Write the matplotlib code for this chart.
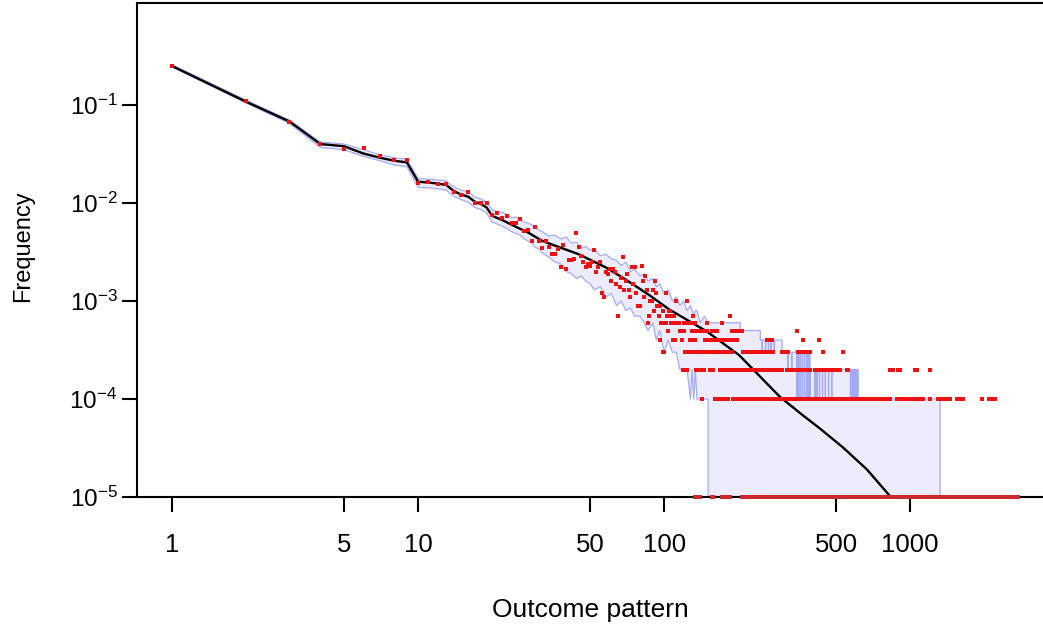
import numpy as np
import matplotlib
matplotlib.use("Agg")
import matplotlib.pyplot as plt

plt.rcParams['font.family'] = ['Liberation Sans', 'DejaVu Sans']
plt.rcParams['mathtext.fontset'] = 'custom'
plt.rcParams['mathtext.rm'] = 'Liberation Sans'
plt.rcParams['mathtext.it'] = 'Liberation Sans'

N_SAMPLES = 10000

# observed counts (out of N_SAMPLES) for ranks 1..95
head_counts = [
    2520, 1090, 675, 400, 358, 367, 304, 275, 275, 161,
    165, 155, 155, 130, 121, 129, 99, 99, 99, 76,
    80, 70, 73, 62, 62, 69, 52, 53, 41, 57,
    41, 35, 41, 36, 30, 30, 34, 22, 37, 21,
    26, 26, 27, 50, 36, 29, 25, 22, 24, 23,
    25, 33, 20, 22, 25, 12, 11, 20, 19, 21,
    16, 21, 20, 15, 7, 14, 17, 28, 13, 16,
    19, 13, 11, 22, 15, 22, 12, 9, 9, 9,
    23, 16, 11, 18, 13, 6, 7, 10, 10, 13,
    8, 16, 12, 9, 7,
]

# tail: runs of ranks (first, last) sharing the same observed count
tail_12 = [(102, 102)]
tail_10 = [(112, 112), (124, 124)]
tail_9 = [(96, 96)]
tail_8 = [(99, 99), (105, 106)]
tail_7 = [(103, 104), (108, 110), (131, 131), (186, 186)]
tail_6 = [(97, 98), (101, 102), (107, 109), (113, 115), (120, 122), (125, 126),
          (131, 133), (150, 150), (172, 172)]
tail_5 = [(104, 104), (116, 117), (120, 121), (130, 133), (138, 140), (145, 149),
          (156, 158), (162, 164), (189, 192), (200, 208), (346, 346)]
tail_4 = [(96, 96), (109, 111), (118, 118), (128, 129), (132, 133), (146, 150),
          (154, 162), (166, 176), (180, 197), (261, 268), (272, 275), (366, 366),
          (426, 426)]
tail_3 = [(99, 100), (122, 124), (128, 130), (134, 137), (143, 146), (150, 158),
          (161, 170), (174, 189), (209, 225), (229, 250), (254, 277), (302, 318),
          (350, 362), (372, 392), (444, 444), (534, 534)]
tail_2 = [(119, 120), (123, 124), (135, 137), (140, 145), (154, 158), (168, 200),
          (204, 240), (246, 302), (316, 392), (409, 517), (553, 561), (829, 852),
          (893, 906), (1049, 1066), (1206, 1206)]
tail_1 = [(143, 143), (161, 166), (170, 182), (191, 230), (239, 721), (740, 829),
          (885, 1066), (1098, 1124), (1206, 1206), (1304, 1455), (1546, 1642),
          (1966, 1966), (2084, 2217)]
tail_0 = [(133, 140), (157, 158), (172, 185), (207, 2755)]

# expected frequency (black line)
expected_rank = [1, 2, 3, 4, 5, 6, 7, 8, 9, 10, 11, 12, 13, 14, 15, 16, 17, 18, 19, 20,
                 22, 24, 28, 32, 38, 45, 58, 70, 87, 105, 149, 202, 296, 367, 430,
                 534, 669, 829, 900]
expected_freq = [0.25, 0.108, 0.068, 0.040, 0.038, 0.032, 0.029, 0.027, 0.026, 0.0165,
                 0.0162, 0.0158, 0.0153, 0.0132, 0.0122, 0.0116, 0.0103, 0.0098, 0.0090,
                 0.0074, 0.0067, 0.0060, 0.0050, 0.0041, 0.0035, 0.0030, 0.0022,
                 0.00165, 0.00115, 0.00082, 0.00049, 0.00028, 0.000105, 6.8e-5, 5.0e-5,
                 3.2e-5, 1.9e-5, 1.02e-5, 8e-6]

# confidence band, ranks 1..151
band_rank = [1, 2, 3, 4, 5, 6, 7, 8, 9, 10, 11, 12, 13, 14, 15, 16, 17, 18, 19, 20,
             21, 22, 23, 24, 25, 26, 27, 28, 29, 30, 31, 32, 34, 36, 38, 40, 42, 44,
             46, 48, 50, 52, 55, 58, 61, 64, 67, 70, 73, 76, 80, 83, 86, 90, 93, 96,
             100, 104, 108, 112, 116, 120, 124, 128, 130, 132, 134, 136, 140, 146, 151]
band_lo = [0.245, 0.105, 0.065, 0.037, 0.035, 0.030, 0.027, 0.0245, 0.0235, 0.0145,
           0.0143, 0.0140, 0.0136, 0.0117, 0.0108, 0.0102, 0.0090, 0.0086, 0.0079, 0.0064,
           0.0061, 0.0058, 0.0055, 0.0051, 0.0049, 0.0047, 0.0043, 0.0041, 0.0039, 0.0035,
           0.0034, 0.0031, 0.0028, 0.0025, 0.0024, 0.0020, 0.0019, 0.0017, 0.0018, 0.0016,
           0.0015, 0.0013, 0.0014, 0.0011, 0.0012, 0.0009, 0.0010, 0.0008, 0.00085, 0.0007,
           0.0007, 0.0006, 0.0005, 0.0006, 0.0004, 0.0005, 0.0003, 0.0004, 0.0003, 0.0003,
           0.0002, 0.0002, 0.0002, 0.0001, 0.0002, 0.0001, 0.0002, 0.0001, 0.0001, 0.0001,
           0.0001]
band_hi = [0.258, 0.112, 0.070, 0.042, 0.040, 0.035, 0.031, 0.029, 0.028, 0.0178,
           0.0175, 0.0172, 0.0168, 0.0145, 0.0135, 0.0130, 0.0115, 0.0110, 0.0102, 0.0085,
           0.0082, 0.0080, 0.0076, 0.0071, 0.0072, 0.0068, 0.0064, 0.0062, 0.0060, 0.0056,
           0.0053, 0.0051, 0.0046, 0.0047, 0.0043, 0.0045, 0.0039, 0.0040, 0.0035, 0.0036,
           0.0033, 0.0034, 0.0029, 0.0030, 0.0027, 0.0026, 0.0023, 0.0025, 0.0020, 0.0021,
           0.0018, 0.0019, 0.0016, 0.0017, 0.0014, 0.0015, 0.0012, 0.0013, 0.0010, 0.0011,
           0.0009, 0.0010, 0.0008, 0.0009, 0.0008, 0.0007, 0.0008, 0.0008, 0.0006, 0.0007,
           0.0006]

# band upper bound in the tail: stepwise in counts, lower bound is zero
tail_hi_start = [151, 204, 246, 302, 392, 615]
tail_hi_count = [6, 5, 4, 3, 2, 1]
tail_band_end = 1324
hi_dip_rank = [250, 258, 265, 272, 280, 318, 330, 346, 352, 358, 365, 372, 380, 386,
               392, 410, 418, 428, 440, 452, 466, 480, 572, 580, 588, 596, 604, 610]
hi_dip_count = [3, 3, 3, 3, 3, 2, 2, 1, 1, 1, 1, 1, 1, 1,
                1, 1, 1, 1, 1, 1, 1, 1, 1, 1, 1, 1, 1, 1]

x_ticks = [1, 5, 10, 50, 100, 500, 1000]
y_ticks = [1e-1, 1e-2, 1e-3, 1e-4, 1e-5]
y_ticklabels = [r'$\mathregular{10^{-1}}$', r'$\mathregular{10^{-2}}$',
                r'$\mathregular{10^{-3}}$', r'$\mathregular{10^{-4}}$',
                r'$\mathregular{10^{-5}}$']

FLOOR = 1e-5      # zero counts are drawn on the bottom axis
BELOW = 1e-8

band_fill = '#ececfd'
band_edge = '#a4abf4'

fig = plt.figure(figsize=(10.43, 6.28), dpi=100)
ax = fig.add_axes([137 / 1043, 131 / 628, 906 / 1043, 494 / 628])
ax.set_xscale('log')
ax.set_yscale('log')

# band, head part
ax.fill_between(band_rank, band_lo, band_hi, color=band_fill, lw=0, zorder=1)
ax.plot(band_rank, band_hi, color=band_edge, lw=0.9, zorder=2)
ax.plot(band_rank + [band_rank[-1]], band_lo + [BELOW], color=band_edge, lw=0.9, zorder=2)

# band, tail part
t_rank = np.arange(tail_hi_start[0], tail_band_end + 1)
t_hi = np.zeros(len(t_rank))
for start, c in zip(tail_hi_start, tail_hi_count):
    t_hi[t_rank >= start] = c / N_SAMPLES
for r, c in zip(hi_dip_rank, hi_dip_count):
    t_hi[t_rank == r] = c / N_SAMPLES
t_lo = np.full(len(t_rank), BELOW)
ax.fill_between(t_rank, t_lo, t_hi, step='post', color=band_fill, lw=0, zorder=1)
ax.step(np.append(t_rank, tail_band_end), np.append(t_hi, BELOW), where='post',
        color=band_edge, lw=0.9, zorder=2)

# expected
ax.plot(expected_rank, expected_freq, color='black', lw=1.7, zorder=3)

# observed
obs_rank = list(range(1, len(head_counts) + 1))
obs_freq = [c / N_SAMPLES for c in head_counts]
tails = {12: tail_12, 10: tail_10, 9: tail_9, 8: tail_8, 7: tail_7, 6: tail_6,
         5: tail_5, 4: tail_4, 3: tail_3, 2: tail_2, 1: tail_1}
for c, runs in tails.items():
    for a, b in runs:
        for r in range(a, b + 1):
            obs_rank.append(r)
            obs_freq.append(c / N_SAMPLES)
ax.scatter(obs_rank, obs_freq, s=11, marker='s', color='#ee1111', linewidths=0, zorder=4)

zero_rank = [r for a, b in tail_0 for r in range(a, b + 1)]
ax.scatter(zero_rank, [FLOOR] * len(zero_rank), s=7, marker='s', color='#cc2a2a',
           linewidths=0, zorder=5, clip_on=False)

ax.set_xlim(0.72, 3470)
ax.set_ylim(1e-5, 1.1)

ax.set_xticks(x_ticks)
ax.set_xticklabels([str(v) for v in x_ticks])
ax.set_yticks(y_ticks)
ax.set_yticklabels(y_ticklabels)
ax.minorticks_off()
ax.tick_params(axis='both', direction='out', length=11, width=1.5, color='black')
ax.tick_params(axis='x', labelsize=18.5, pad=15)
ax.tick_params(axis='y', labelsize=17.5, pad=3)

for side in ['left', 'top', 'bottom']:
    ax.spines[side].set_linewidth(1.5)
ax.spines['right'].set_visible(False)

ax.set_xlabel('Outcome pattern', fontsize=19)
ax.xaxis.set_label_coords(0.5, -0.205)
ax.set_ylabel('Frequency', fontsize=17)
ax.yaxis.set_label_coords(-0.114, 0.508)

fig.savefig('out.png', dpi=100)
